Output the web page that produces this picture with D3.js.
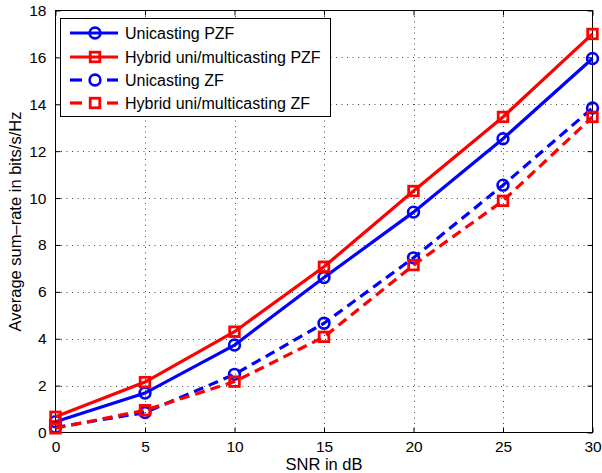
<!DOCTYPE html>
<html><head><meta charset="utf-8">
<script src="https://cdn.jsdelivr.net/npm/d3@7/dist/d3.min.js"></script>
<style>body{margin:0;background:#fff}svg{display:block;font-family:"Liberation Sans",Arial,sans-serif}</style>
</head><body><svg id="c" width="602" height="473"></svg>
<script>
const snr = [0, 5, 10, 15, 20, 25, 30];
const uniPZF = [0.46, 1.68, 3.73, 6.61, 9.40, 12.53, 15.95];
const hybPZF = [0.67, 2.15, 4.30, 7.07, 10.30, 13.46, 17.00];
const uniZF = [0.22, 0.85, 2.48, 4.66, 7.45, 10.55, 13.84];
const hybZF = [0.18, 0.95, 2.17, 4.08, 7.14, 9.88, 13.46];
const xTicks = [0, 5, 10, 15, 20, 25, 30];
const yTicks = [0, 2, 4, 6, 8, 10, 12, 14, 16, 18];
const seriesNames = ["Unicasting PZF", "Hybrid uni/multicasting PZF", "Unicasting ZF", "Hybrid uni/multicasting ZF"];

const series = [
  {name: seriesNames[0], values: uniPZF, color: "#0000ff", dash: null, marker: "circle"},
  {name: seriesNames[1], values: hybPZF, color: "#ff0000", dash: null, marker: "square"},
  {name: seriesNames[2], values: uniZF, color: "#0000ff", dash: "10,6", marker: "circle"},
  {name: seriesNames[3], values: hybZF, color: "#ff0000", dash: "10,6", marker: "square"}
];

const svg = d3.select("#c");
const L = 55.5, R = 592.5, T = 10.5, B = 432.5;
const x = d3.scaleLinear().domain([0, 30]).range([L, R]);
const y = d3.scaleLinear().domain([0, 18]).range([B, T]);

// grid
const grid = svg.append("g").attr("stroke", "#444").attr("stroke-width", 1).attr("stroke-dasharray", "1,4.5");
xTicks.slice(1, -1).forEach(t => grid.append("line").attr("x1", Math.round(x(t)) + 0.5).attr("x2", Math.round(x(t)) + 0.5).attr("y1", T).attr("y2", B));
yTicks.slice(1, -1).forEach(t => grid.append("line").attr("y1", Math.round(y(t)) + 0.5).attr("y2", Math.round(y(t)) + 0.5).attr("x1", L).attr("x2", R));

// axes
const fs = 15.5;
const xAxisB = d3.axisBottom(x).tickValues(xTicks).tickSize(-5).tickPadding(8).tickFormat(d3.format("d"));
const xAxisT = d3.axisTop(x).tickValues(xTicks).tickSize(-5).tickFormat("");
const yAxisL = d3.axisLeft(y).tickValues(yTicks).tickSize(-5).tickPadding(9).tickFormat(d3.format("d"));
const yAxisR = d3.axisRight(y).tickValues(yTicks).tickSize(-5).tickFormat("");
function style(g) {
  g.select(".domain").remove();
  g.selectAll("line").attr("stroke", "#000");
  g.selectAll("text").attr("fill", "#000").style("font-size", fs + "px").style("font-family", '"Liberation Sans",Arial,sans-serif');
}
svg.append("g").attr("transform", `translate(0,${B})`).call(xAxisB).call(style);
svg.append("g").attr("transform", `translate(0,${T})`).call(xAxisT).call(style);
svg.append("g").attr("transform", `translate(${L},0)`).call(yAxisL).call(style);
svg.append("g").attr("transform", `translate(${R},0)`).call(yAxisR).call(style);
svg.append("rect").attr("x", L).attr("y", T).attr("width", R - L).attr("height", B - T).attr("fill", "none").attr("stroke", "#000").attr("stroke-width", 1);

// lines
const line = d3.line().x((d, i) => x(snr[i])).y(d => y(d));
function marker(g, type, cx, cy, color) {
  if (type === "circle") {
    g.append("circle").attr("cx", cx).attr("cy", cy).attr("r", 5.4).attr("fill", "none").attr("stroke", color).attr("stroke-width", 2.6);
  } else {
    g.append("rect").attr("x", cx - 4.8).attr("y", cy - 4.8).attr("width", 9.6).attr("height", 9.6).attr("fill", "none").attr("stroke", color).attr("stroke-width", 2.8);
  }
}
series.forEach(s => {
  const g = svg.append("g");
  g.append("path").datum(s.values).attr("d", line).attr("fill", "none").attr("stroke", s.color).attr("stroke-width", 3.2)
    .attr("stroke-dasharray", s.dash);
  s.values.forEach((v, i) => marker(g, s.marker, x(snr[i]), y(v), s.color));
});

// labels
svg.append("text").attr("x", (L + R) / 2).attr("y", 469.5).attr("text-anchor", "middle").style("font-size", "16.5px").text("SNR in dB");
svg.append("text").attr("transform", `translate(21,${(T + B) / 2}) rotate(-90)`).attr("text-anchor", "middle").style("font-size", "16.5px").text("Average sum\u2013rate in bits/s/Hz");

// legend
const lg = svg.append("g");
lg.append("rect").attr("x", 60.5).attr("y", 18.5).attr("width", 270).attr("height", 98).attr("fill", "#fff").attr("stroke", "#000").attr("stroke-width", 1);
const ly = [33, 57, 80, 103];
series.forEach((s, i) => {
  const yy = ly[i];
  if (s.dash) {
    lg.append("line").attr("x1", 70).attr("x2", 82).attr("y1", yy).attr("y2", yy).attr("stroke", s.color).attr("stroke-width", 3.2);
    lg.append("line").attr("x1", 107).attr("x2", 118).attr("y1", yy).attr("y2", yy).attr("stroke", s.color).attr("stroke-width", 3.2);
  } else {
    lg.append("line").attr("x1", 70).attr("x2", 118).attr("y1", yy).attr("y2", yy).attr("stroke", s.color).attr("stroke-width", 3.2);
  }
  marker(lg, s.marker, 95, yy, s.color);
  lg.append("text").attr("x", 125).attr("y", yy).attr("dy", "0.36em").style("font-size", "16px").text(s.name);
});
</script></body></html>
